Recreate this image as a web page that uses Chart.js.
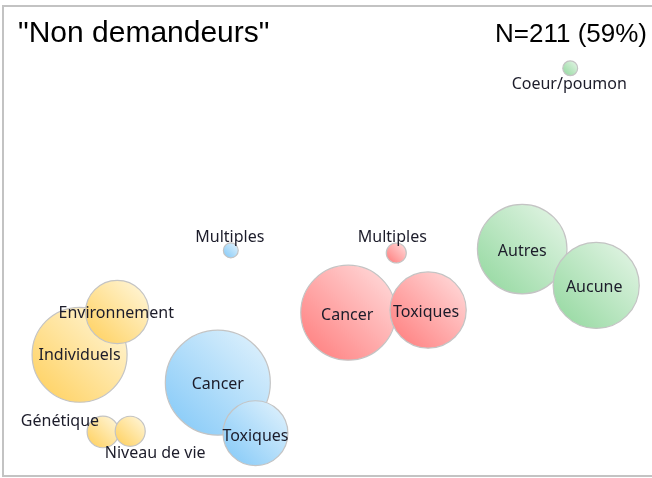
<!DOCTYPE html>
<html>
<head>
<meta charset="utf-8">
<script src="https://cdn.jsdelivr.net/npm/chart.js@4/dist/chart.umd.min.js"></script>
<style>
  html, body { margin: 0; padding: 0; background: #ffffff; }
  #wrap { width: 652px; height: 478px; }
</style>
</head>
<body>
<div id="wrap"><canvas id="c" width="652" height="478"></canvas></div>
<script>
// ---- Data ----
const titleText = '"Non demandeurs"';
const countText = 'N=211 (59%)';

const yellowLabels = ['Individuels', 'Environnement', 'Génétique', 'Niveau de vie'];
const yellowX      = [1.18, 1.76, 1.54, 1.96];
const yellowY      = [1.87, 2.53, 0.68, 0.69];
const yellowSize   = [45, 20, 5, 4.5];

const blueLabels = ['Cancer', 'Toxiques', 'Multiples'];
const blueX      = [3.31, 3.89, 3.51];
const blueY      = [1.44, 0.66, 3.48];
const blueSize   = [55, 21, 1.1];

const redLabels = ['Cancer', 'Toxiques', 'Multiples'];
const redX      = [5.32, 6.55, 6.06];
const redY      = [2.52, 2.56, 3.44];
const redSize   = [45, 29, 2];

const greenLabels = ['Autres', 'Aucune', 'Coeur/poumon'];
const greenX      = [8.00, 9.14, 8.74];
const greenY      = [3.50, 2.94, 6.29];
const greenSize   = [40, 37, 1.1];

// ---- Label placement (offset of text centre from bubble centre, px) ----
const labelOffsets = {
  yellow: [[0, 0], [-1, 1], [-43, -11], [25, 21]],
  blue:   [[0, 1], [0, 2], [-1, -14]],
  red:    [[-1, 2], [-2, 1], [-4, -16]],
  green:  [[0, 1], [-2, 1], [-1, 15]]
};

const RADIUS_PER_SQRT = 7.08;

function points(xs, ys, sizes) {
  return xs.map((x, i) => ({ x: x, y: ys[i], r: Math.sqrt(sizes[i]) * RADIUS_PER_SQRT }));
}

function gradientFill(light, dark) {
  return function (ctx) {
    if (ctx.type !== 'data') return dark;
    const chart = ctx.chart;
    const xs = chart.scales.x, ys = chart.scales.y;
    if (!xs || !ys || !chart.chartArea) return dark;
    const px = xs.getPixelForValue(ctx.raw.x);
    const py = ys.getPixelForValue(ctx.raw.y);
    const r = ctx.raw.r;
    const g = chart.ctx.createLinearGradient(px + r * 0.75, py - r * 0.75, px - r * 0.75, py + r * 0.75);
    g.addColorStop(0, light);
    g.addColorStop(1, dark);
    return g;
  };
}

const groups = [
  { key: 'yellow', name: 'Jaune', labels: yellowLabels, data: points(yellowX, yellowY, yellowSize), light: '#fff3cf', dark: '#ffd46a' },
  { key: 'blue',   name: 'Bleu',  labels: blueLabels,   data: points(blueX, blueY, blueSize),       light: '#d8eefc', dark: '#8dcdf8' },
  { key: 'red',    name: 'Rouge', labels: redLabels,    data: points(redX, redY, redSize),          light: '#ffd3d3', dark: '#ff8686' },
  { key: 'green',  name: 'Vert',  labels: greenLabels,  data: points(greenX, greenY, greenSize),    light: '#dcf2df', dark: '#9bdba6' }
];

const framePlugin = {
  id: 'frame',
  beforeDraw(chart) {
    const { ctx, chartArea: a } = chart;
    ctx.save();
    ctx.strokeStyle = '#c3c3c3';
    ctx.lineWidth = 2;
    ctx.beginPath();
    ctx.moveTo(chart.width + 2, a.top);
    ctx.lineTo(a.left, a.top);
    ctx.lineTo(a.left, a.bottom);
    ctx.lineTo(chart.width + 2, a.bottom);
    ctx.stroke();
    ctx.restore();
  },
  afterDraw(chart) {
    const { ctx, chartArea: a } = chart;
    ctx.save();
    ctx.fillStyle = '#000000';
    ctx.textBaseline = 'alphabetic';
    ctx.font = '30px "Liberation Sans", Arial, sans-serif';
    ctx.textAlign = 'left';
    ctx.fillText(titleText, a.left + 15, 42);
    ctx.font = '26px "Liberation Sans", Arial, sans-serif';
    ctx.textAlign = 'right';
    ctx.fillText(countText, chart.width - 5, 42);
    ctx.restore();
  }
};

const labelPlugin = {
  id: 'bubbleLabels',
  afterDatasetsDraw(chart) {
    const ctx = chart.ctx;
    ctx.save();
    ctx.font = '16px "Noto Sans", "Open Sans", sans-serif';
    ctx.fillStyle = '#1c1c2a';
    ctx.textAlign = 'center';
    ctx.textBaseline = 'alphabetic';
    chart.data.datasets.forEach((ds, di) => {
      const meta = chart.getDatasetMeta(di);
      const g = groups[di];
      meta.data.forEach((el, i) => {
        const off = labelOffsets[g.key][i];
        ctx.fillText(g.labels[i], el.x + off[0], el.y + off[1] + 5.5);
      });
    });
    ctx.restore();
  }
};

new Chart(document.getElementById('c'), {
  type: 'bubble',
  data: {
    datasets: groups.map(g => ({
      label: g.name,
      data: g.data,
      backgroundColor: gradientFill(g.light, g.dark),
      borderColor: '#c4c4c4',
      borderWidth: 1.2,
      hoverRadius: 0
    }))
  },
  options: {
    responsive: false,
    animation: false,
    events: [],
    layout: { autoPadding: false, padding: { left: 3, top: 6, right: 0, bottom: 2 } },
    scales: {
      x: { type: 'linear', min: 0, max: 10, display: false },
      y: { type: 'linear', min: 0, max: 7.25, display: false }
    },
    plugins: {
      legend: { display: false },
      tooltip: { enabled: false },
      title: { display: false }
    }
  },
  plugins: [framePlugin, labelPlugin]
});
</script>
</body>
</html>
